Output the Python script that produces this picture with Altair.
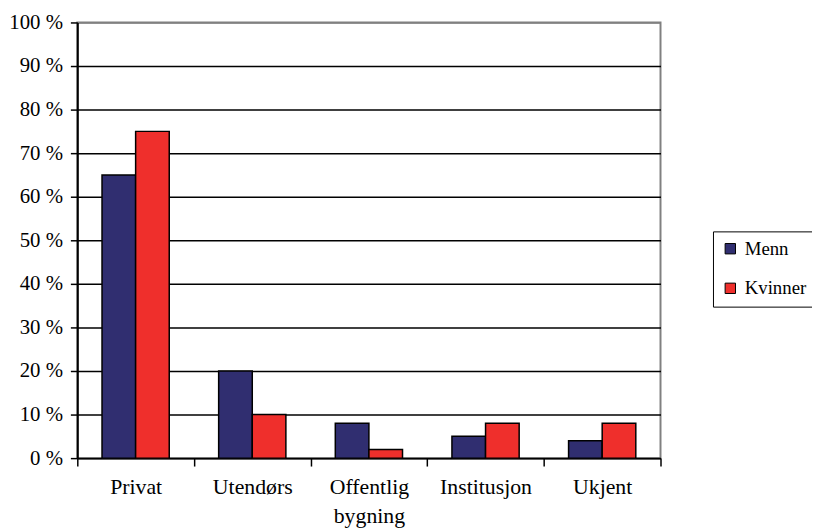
import altair as alt
import pandas as pd

categories = ["Privat", "Utendørs", "Offentlig bygning", "Institusjon", "Ukjent"]
series = ["Menn", "Kvinner"]
menn = [65, 20, 8, 5, 4]
kvinner = [75, 10, 2, 8, 8]
colors = ["#302e70", "#ef2f2c"]
y_ticks = list(range(0, 101, 10))

rows = []
for c, m, k in zip(categories, menn, kvinner):
    rows.append({"kategori": c, "kjonn": "Menn", "andel": m})
    rows.append({"kategori": c, "kjonn": "Kvinner", "andel": k})
df = pd.DataFrame(rows)

FONT = "Liberation Serif, Times New Roman, serif"

chart = alt.Chart(df).mark_bar(stroke="black", strokeWidth=1.5).encode(
    x=alt.X(
        "kategori:N",
        sort=categories,
        title=None,
        scale=alt.Scale(paddingInner=0, paddingOuter=0),
        axis=alt.Axis(
            tickBand="extent",
            labelAngle=0,
            labelFont=FONT,
            labelFontSize=22,
            labelColor="black",
            labelLineHeight=29,
            labelExpr="isValid(datum.value) ? split(datum.value, ' ') : ''",
            labelPadding=11,
            tickSize=8,
            tickColor="black",
            tickWidth=1.5,
            domainColor="black",
            domainWidth=2,
            grid=False,
        ),
    ),
    xOffset=alt.XOffset(
        "kjonn:N",
        sort=series,
        scale=alt.Scale(paddingInner=0, paddingOuter=0.735),
    ),
    y=alt.Y(
        "andel:Q",
        title=None,
        scale=alt.Scale(domain=[0, 100], nice=False),
        axis=alt.Axis(
            values=y_ticks,
            labelExpr="datum.value + ' %'",
            labelFont=FONT,
            labelFontSize=21,
            labelColor="black",
            labelPadding=8,
            tickSize=7,
            tickColor="black",
            tickWidth=1.5,
            domainColor="black",
            domainWidth=2,
            grid=True,
            gridColor={"condition": {"test": "datum.value == 100", "value": "#808080"}, "value": "black"},
            gridWidth=1.5,
        ),
    ),
    color=alt.Color(
        "kjonn:N",
        sort=series,
        scale=alt.Scale(domain=series, range=colors),
        legend=alt.Legend(
            title=None,
            orient="none",
            legendX=642,
            legendY=211,
            symbolType="square",
            symbolSize=110,
            symbolStrokeColor="black",
            symbolStrokeWidth=1,
            labelFont=FONT,
            labelFontSize=19,
            labelColor="black",
            labelLimit=300,
            rowPadding=20,
            padding=8,
            strokeColor="black",
            fillColor="white",
            labelOffset=5,
        ),
    ),
).properties(
    width=589,
    height=440,
    autosize=alt.AutoSizeParams(type="none"),
    padding={"left": 70, "top": 12, "right": 153, "bottom": 72},
).configure_view(
    stroke="#808080",
    strokeWidth=2,
    fill="white",
)

chart.save("out.html", embed_options={"renderer": "svg", "actions": False})
